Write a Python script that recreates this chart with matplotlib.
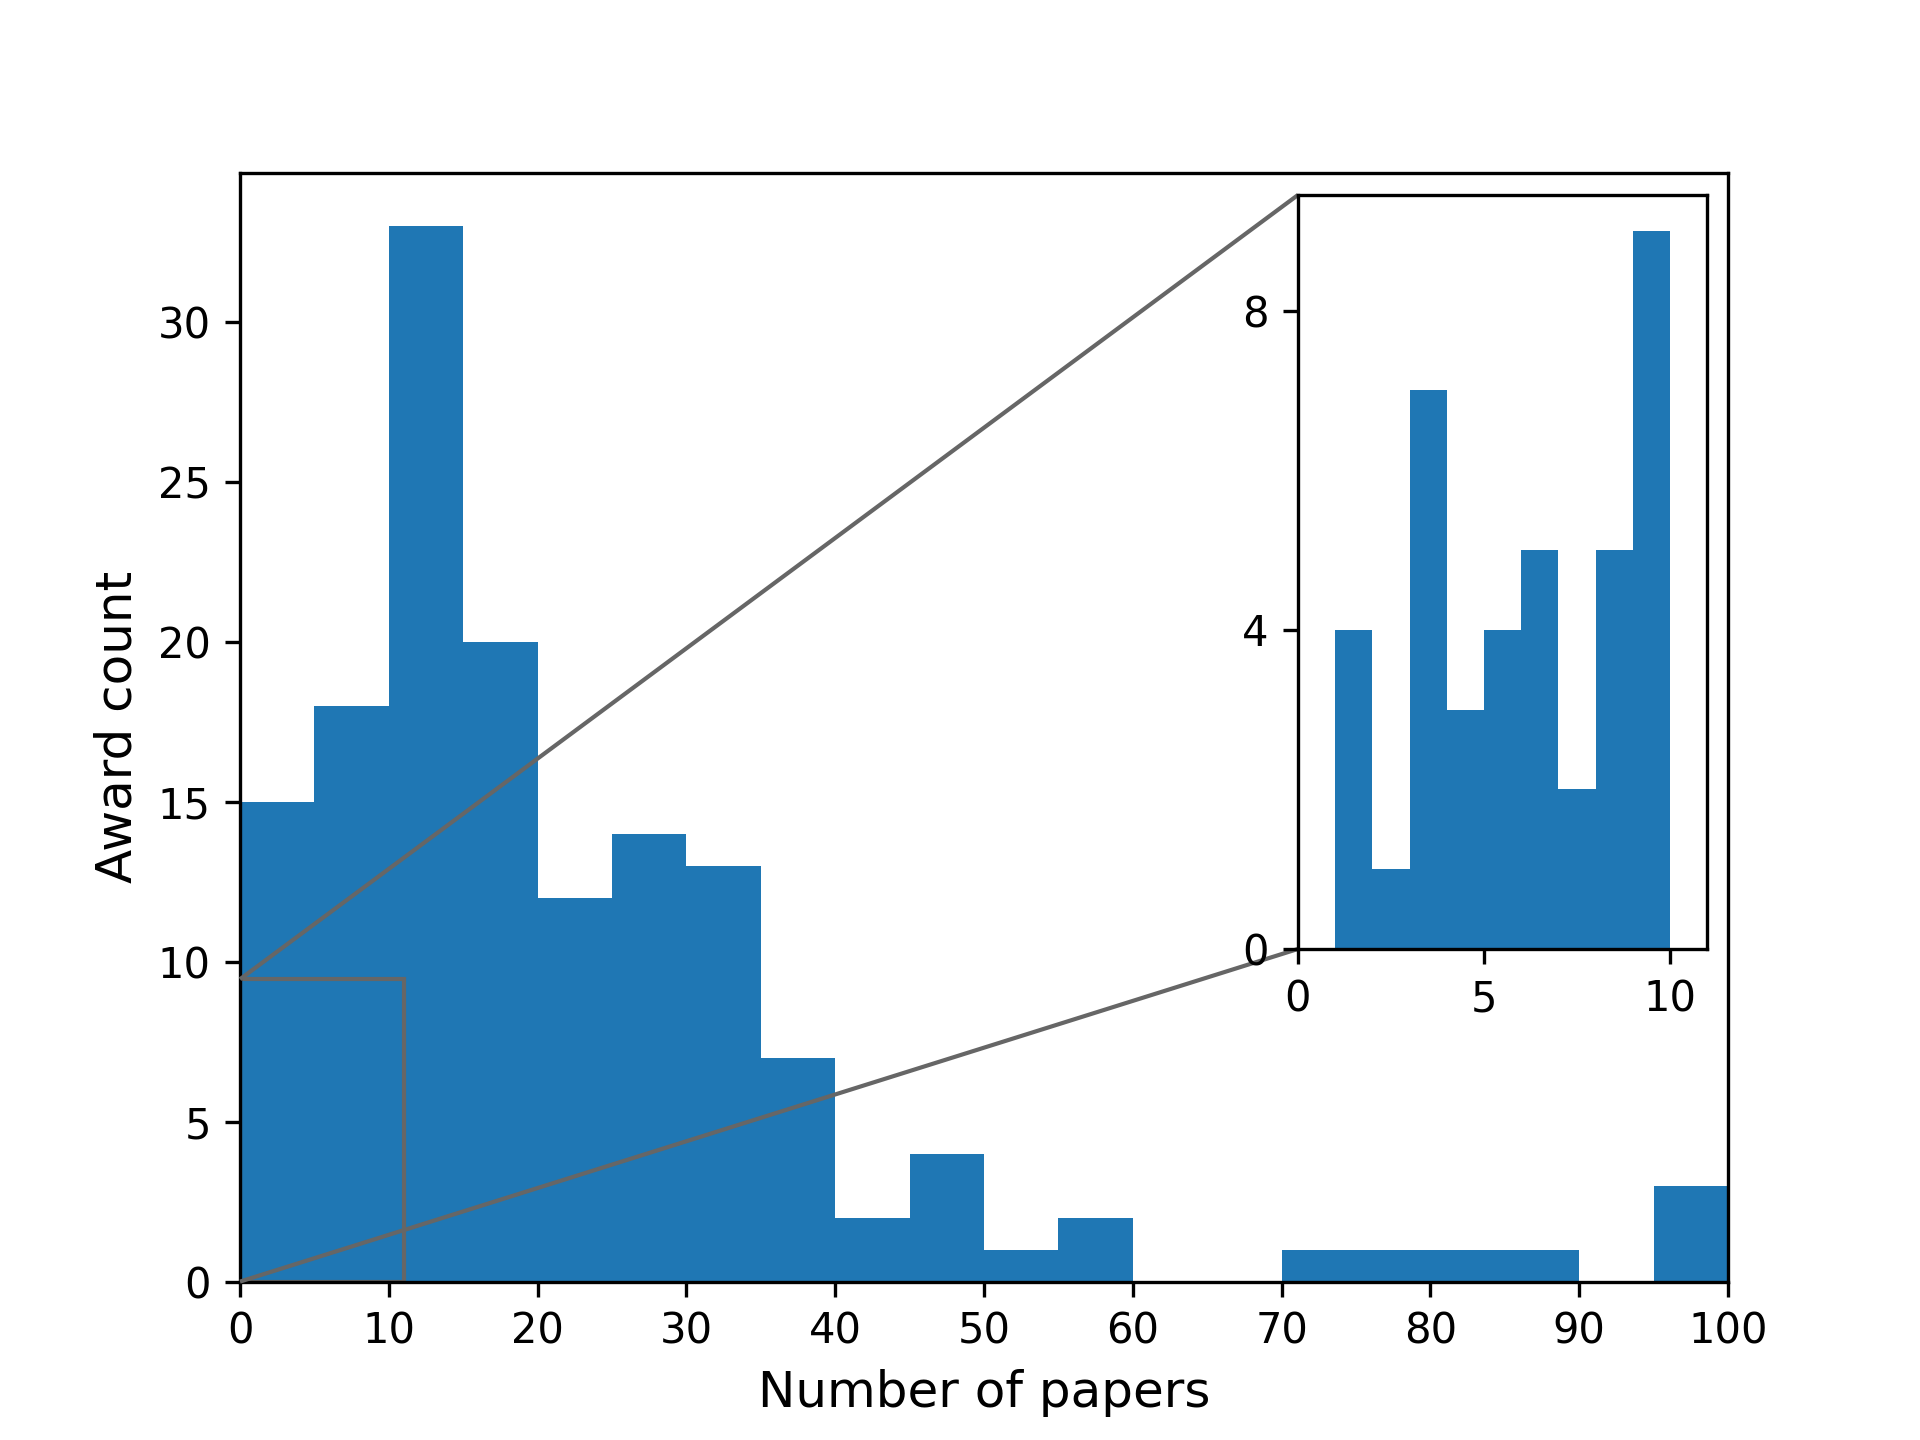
import numpy as np
import matplotlib
matplotlib.use('Agg')
import matplotlib.pyplot as plt
from mpl_toolkits.axes_grid1.inset_locator import mark_inset

# main histogram: bins of 5 papers from 0 to 100
bin_edges = np.arange(0, 105, 5)
award_counts = [15, 18, 33, 20, 12, 14, 13, 7, 2, 4, 1, 2, 0, 0, 1, 1, 1, 1, 0, 3]

# zoomed histogram: bins of 1 paper from 1 to 10
zoom_edges = np.arange(1, 11, 1)
zoom_counts = [4, 1, 7, 3, 4, 5, 2, 5, 9]

fig, ax = plt.subplots(figsize=(6.4, 4.8), dpi=300)
ax.hist(bin_edges[:-1], bins=bin_edges, weights=award_counts, color='#1f77b4')
ax.set_xlim(0, 100)
ax.set_xticks(np.arange(0, 101, 10))
ax.set_xlabel('Number of papers', fontsize=12)
ax.set_ylabel('Award count', fontsize=12)

axins = ax.inset_axes([0.711, 0.3, 0.275, 0.68])
axins.hist(zoom_edges[:-1], bins=zoom_edges, weights=zoom_counts, color='#1f77b4')
axins.set_xlim(0, 11)
axins.set_xticks([0, 5, 10])
axins.set_yticks([0, 4, 8])

mark_inset(ax, axins, loc1=2, loc2=3, fc='none', ec='0.4', lw=1.0)

plt.savefig('out.png', dpi=300)
